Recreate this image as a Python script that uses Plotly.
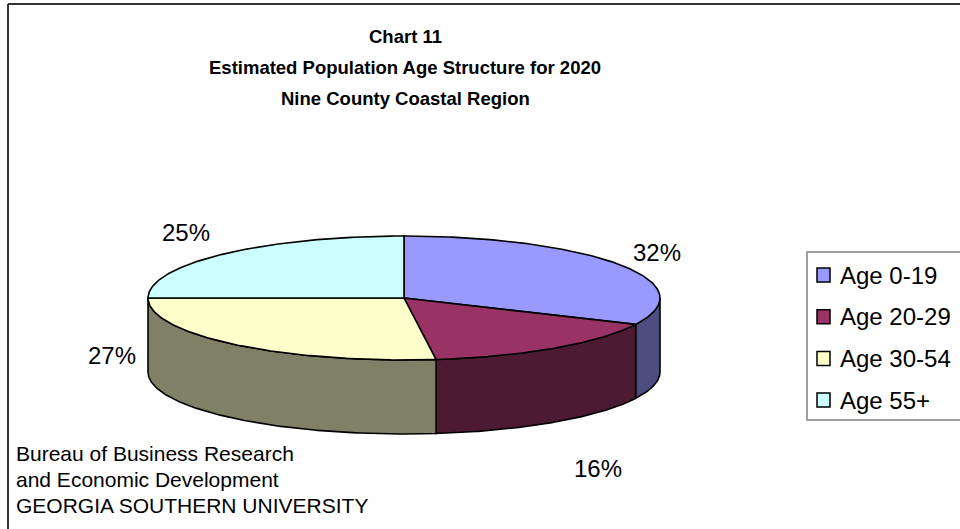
import numpy as np
import plotly.graph_objects as go

# ---- data ----
categories = ["Age 0-19", "Age 20-29", "Age 30-54", "Age 55+"]
shares = [32, 16, 27, 25]  # percent of population
title_lines = [
    "Chart 11",
    "Estimated Population Age Structure for 2020",
    "Nine County Coastal Region",
]
source_lines = [
    "Bureau of Business Research",
    "and Economic Development",
    "GEORGIA SOUTHERN UNIVERSITY",
]

# ---- style ----
top_colors = ["#9999FF", "#993366", "#FFFFCC", "#CCFFFF"]
side_colors = ["#4D4D80", "#4D1A33", "#808066", "#668080"]
W, H = 960, 529
CX, CY, RX, RY, DEPTH = 404, 298, 256, 62, 74   # tilted pie geometry (px)
LABEL_NUDGE = [(37, -12), (44, 120), (-123, 11), (-37, -22)]
FONT = "Arial, Liberation Sans, sans-serif"


def rim(theta_deg, dy=0.0):
    """Point on the pie rim; angle measured clockwise from 12 o'clock."""
    t = np.radians(theta_deg)
    return CX + RX * np.sin(t), CY - RY * np.cos(t) + dy


fig = go.Figure()

# slice boundaries from cumulative shares
total = float(sum(shares))
edges = np.concatenate([[0.0], np.cumsum(shares) / total * 360.0])

# front side walls (only the half facing the viewer, 90..270 deg)
for i in range(len(shares)):
    a, b = max(edges[i], 90.0), min(edges[i + 1], 270.0)
    if b <= a:
        continue
    t = np.linspace(a, b, 120)
    xt, yt = rim(t)
    xb, yb = rim(t[::-1], DEPTH)
    xs = np.concatenate([xt, xb, xt[:1]])
    ys = np.concatenate([yt, yb, yt[:1]])
    fig.add_trace(go.Scatter(
        x=xs, y=ys, mode="lines", fill="toself",
        fillcolor=side_colors[i], line=dict(color="black", width=1.6),
        hoverinfo="skip", showlegend=False))

# top faces
for i in range(len(shares)):
    t = np.linspace(edges[i], edges[i + 1], 160)
    xa, ya = rim(t)
    xs = np.concatenate([[CX], xa, [CX]])
    ys = np.concatenate([[CY], ya, [CY]])
    fig.add_trace(go.Scatter(
        x=xs, y=ys, mode="lines", fill="toself",
        fillcolor=top_colors[i], line=dict(color="black", width=1.6),
        name=categories[i], hoverinfo="name", showlegend=False))

annotations = []

# percentage labels placed from each slice's mid angle
for i, v in enumerate(shares):
    mid = (edges[i] + edges[i + 1]) / 2.0
    bx, by = rim(mid)
    dx, dy = LABEL_NUDGE[i]
    annotations.append(dict(
        x=float(bx + dx), y=float(by + dy), text=f"{v}%", showarrow=False,
        xref="x", yref="y", font=dict(family=FONT, size=24, color="black")))

# title
for k, line in enumerate(title_lines):
    annotations.append(dict(
        x=405, y=36 + 31 * k, text=f"<b>{line}</b>", showarrow=False,
        xref="x", yref="y", font=dict(family=FONT, size=18.5, color="black")))

# source note
for k, line in enumerate(source_lines):
    annotations.append(dict(
        x=14, y=453 + 26 * k, text=line, showarrow=False, xanchor="left",
        xref="x", yref="y", font=dict(family=FONT, size=21, color="black")))

shapes = [
    # chart frame (left and top edges)
    dict(type="line", x0=8, y0=4, x1=8, y1=H + 5, xref="x", yref="y",
         line=dict(color="#333333", width=2)),
    dict(type="line", x0=8, y0=4, x1=W + 5, y1=4, xref="x", yref="y",
         line=dict(color="#333333", width=2)),
    # legend box
    dict(type="rect", x0=807, y0=252, x1=W + 10, y1=420, xref="x", yref="y",
         line=dict(color="#808080", width=1.5), fillcolor="white"),
]

# legend entries
for i, name in enumerate(categories):
    yc = 275 + 41.7 * i
    shapes.append(dict(type="rect", x0=817, y0=yc - 7, x1=830, y1=yc + 7,
                       xref="x", yref="y", fillcolor=top_colors[i],
                       line=dict(color="black", width=1.5)))
    annotations.append(dict(
        x=838, y=yc, text=name, showarrow=False, xanchor="left",
        xref="x", yref="y", font=dict(family=FONT, size=24, color="black")))

fig.update_layout(
    width=W, height=H, margin=dict(l=0, r=0, t=0, b=0),
    paper_bgcolor="white", plot_bgcolor="white", showlegend=False,
    xaxis=dict(range=[0, W], visible=False, fixedrange=True),
    yaxis=dict(range=[H, 0], visible=False, fixedrange=True),
    annotations=annotations, shapes=shapes,
)

fig.write_html("out.html")
